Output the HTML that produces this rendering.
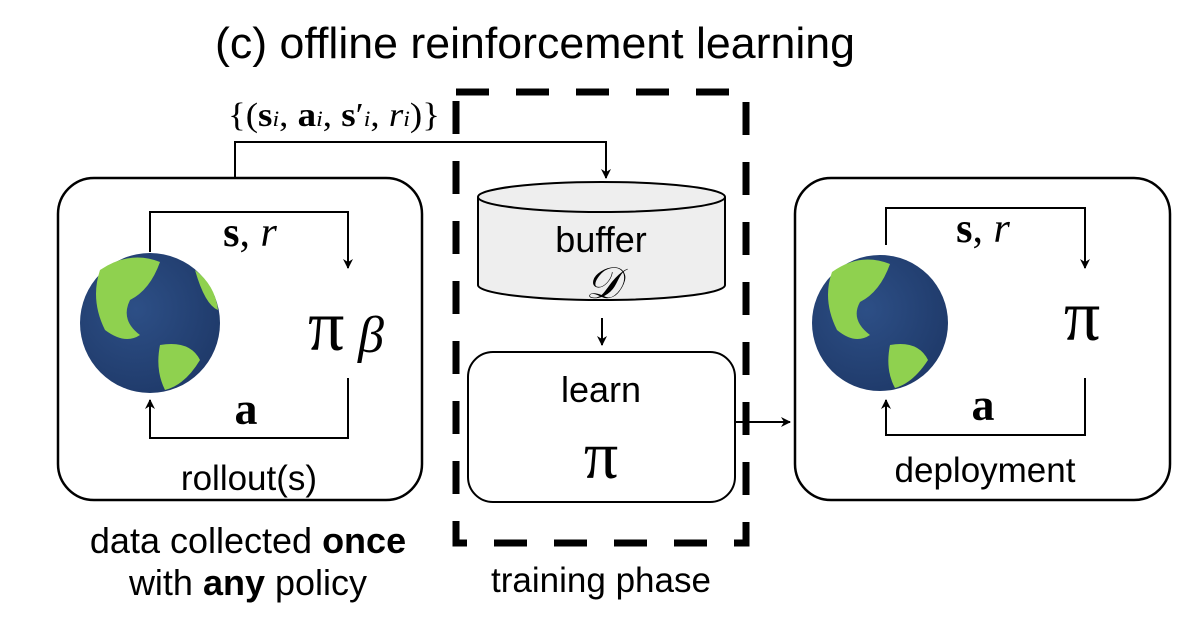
<!DOCTYPE html>
<html><head><meta charset="utf-8"><style>
body{margin:0;background:#fff;}
svg text{font-family:"Liberation Sans",sans-serif;}
.m{font-family:"Liberation Serif",serif;}
</style></head><body>
<svg width="1204" height="630" viewBox="0 0 1204 630" xmlns="http://www.w3.org/2000/svg">
<defs>
<marker id="ah" markerWidth="10" markerHeight="10" refX="9" refY="5" orient="auto" markerUnits="userSpaceOnUse">
<path d="M0,0 L10,5 L0,10 L3,5 Z" fill="#000"/></marker>
<radialGradient id="g" cx="40%" cy="40%" r="65%"><stop offset="0" stop-color="#2d4f86"/><stop offset="1" stop-color="#1f3a6a"/></radialGradient>
</defs>
<text x="535" y="58" font-size="44" text-anchor="middle" textLength="640" lengthAdjust="spacingAndGlyphs">(c) offline reinforcement learning</text>
<text class="m" x="334" y="126" font-size="34" text-anchor="middle" textLength="212" lengthAdjust="spacingAndGlyphs">{(<tspan font-weight="bold">s</tspan><tspan font-style="italic" font-size="22">i</tspan>, <tspan font-weight="bold">a</tspan><tspan font-style="italic" font-size="22">i</tspan>, <tspan font-weight="bold">s</tspan>′<tspan font-style="italic" font-size="22">i</tspan>, <tspan font-style="italic">r</tspan><tspan font-style="italic" font-size="22">i</tspan>)}</text>
<path d="M235,178 V142 H606 V178" fill="none" stroke="#000" stroke-width="2" marker-end="url(#ah)"/>
<rect x="456" y="92" width="290" height="451" fill="none" stroke="#000" stroke-width="7" stroke-dasharray="33,27"/>
<rect x="58" y="178" width="364" height="322" rx="36" fill="none" stroke="#000" stroke-width="2.5"/>
<path d="M150,252 V212 H348 V268" fill="none" stroke="#000" stroke-width="2" marker-end="url(#ah)"/>
<path d="M348,378 V438 H150 V400" fill="none" stroke="#000" stroke-width="2" marker-end="url(#ah)"/>
<circle cx="150" cy="323" r="70" fill="url(#g)"/>
<path d="M100,270 Q130,250 160,262 Q150,290 130,300 Q120,320 140,335 Q125,345 105,330 Q90,300 100,270Z M160,345 Q190,340 200,360 Q185,385 165,390 Q155,370 160,345Z M195,270 Q215,285 218,310 Q205,305 195,270Z" fill="#8fd14f"/>
<text x="250" y="246" font-size="42" class="m" text-anchor="middle"><tspan font-weight="bold">s</tspan>, <tspan font-style="italic">r</tspan></text>
<text x="246" y="424" font-size="46" class="m" font-weight="bold" text-anchor="middle">a</text>
<text x="308" y="350" font-size="72" class="m">π</text>
<text x="358" y="352" font-size="52" class="m" font-style="italic">β</text>
<text x="249" y="490" font-size="35" text-anchor="middle">rollout(s)</text>
<path d="M478,197 V285 A123,15 0 0 0 725,285 V197" fill="#eee" stroke="#000" stroke-width="2"/>
<ellipse cx="601.5" cy="197" rx="123.5" ry="15" fill="#eee" stroke="#000" stroke-width="2"/>
<text x="601" y="252" font-size="36" text-anchor="middle">buffer</text>
<text x="603" y="298" font-size="44" class="m" font-style="italic" text-anchor="middle">𝒟</text>
<path d="M602,318 V345" stroke="#000" stroke-width="2" marker-end="url(#ah)"/>
<rect x="468" y="352" width="267" height="150" rx="25" fill="#fff" stroke="#000" stroke-width="2"/>
<text x="601" y="402" font-size="36" text-anchor="middle">learn</text>
<text x="601" y="478" font-size="68" class="m" text-anchor="middle">π</text>
<path d="M735,422 H790" stroke="#000" stroke-width="2" marker-end="url(#ah)"/>
<rect x="795" y="178" width="375" height="322" rx="36" fill="none" stroke="#000" stroke-width="2.5"/>
<path d="M886,245 V208 H1085 V268" fill="none" stroke="#000" stroke-width="2" marker-end="url(#ah)"/>
<path d="M1085,378 V435 H886 V400" fill="none" stroke="#000" stroke-width="2" marker-end="url(#ah)"/>
<circle cx="880" cy="323" r="68" fill="url(#g)"/>
<path d="M832,272 Q860,252 890,264 Q880,292 860,302 Q850,320 870,335 Q855,345 837,330 Q822,300 832,272Z M890,345 Q918,340 928,360 Q913,383 895,388 Q885,370 890,345Z" fill="#8fd14f"/>
<text x="983" y="242" font-size="42" class="m" text-anchor="middle"><tspan font-weight="bold">s</tspan>, <tspan font-style="italic">r</tspan></text>
<text x="983" y="420" font-size="46" class="m" font-weight="bold" text-anchor="middle">a</text>
<text x="1082" y="340" font-size="72" class="m" text-anchor="middle">π</text>
<text x="985" y="482" font-size="35" text-anchor="middle">deployment</text>
<text x="248" y="553" font-size="36" text-anchor="middle">data collected <tspan font-weight="bold">once</tspan></text>
<text x="248" y="595" font-size="36" text-anchor="middle">with <tspan font-weight="bold">any</tspan> policy</text>
<text x="601" y="592" font-size="35" text-anchor="middle">training phase</text>
</svg>
</body></html>
